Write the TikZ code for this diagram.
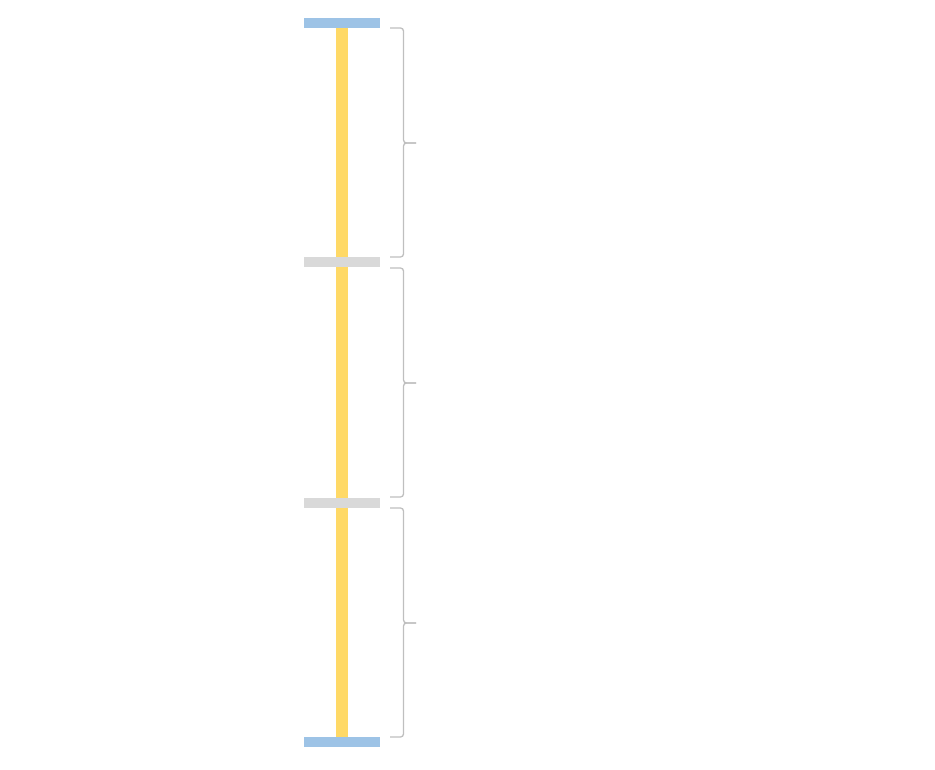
\documentclass[tikz,border=0pt]{standalone}
\begin{document}
\begin{tikzpicture}[x=1pt,y=-1pt,
  bar/.style={draw=none,minimum width=76pt,minimum height=10pt,inner sep=0pt,outer sep=0pt},
  endbar/.style={bar,fill=capblue},
  midbar/.style={bar,fill=sepgray},
  bracepath/.style={draw=bracegray,line width=1.3pt,rounded corners=3pt}]
\definecolor{capblue}{HTML}{9DC3E6}
\definecolor{sepgray}{HTML}{D9D9D9}
\definecolor{shaftyellow}{HTML}{FFD966}
\definecolor{bracegray}{HTML}{BFBFBF}
\useasboundingbox (0,0) rectangle (935,770);
\fill[shaftyellow] (336,28) rectangle (348,737);
\node[endbar] (b0) at (342,23) {};
\node[midbar] (b1) at (342,262.5) {};
\node[midbar] (b2) at (342,502.5) {};
\node[endbar] (b3) at (342,742) {};
\foreach \t/\m/\b in {28/143/257, 268/383/497, 508/623/737}{
  \draw[bracepath] (390,\t) -- (403.5,\t) -- (403.5,\m) -- (416,\m);
  \draw[bracepath] (416,\m) -- (403.5,\m) -- (403.5,\b) -- (390,\b);
}
\end{tikzpicture}
\end{document}
